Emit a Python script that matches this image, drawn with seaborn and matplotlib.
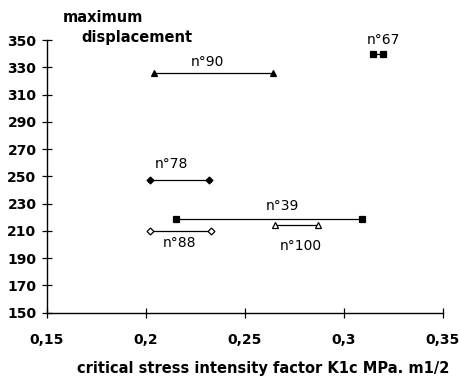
import matplotlib
matplotlib.use("Agg")
import matplotlib.pyplot as plt
import pandas as pd
import seaborn as sns

# data: two K1c values per specimen, one displacement
specimens = ["n°90", "n°78", "n°67", "n°39", "n°88", "n°100"]
k1c_low = [0.204, 0.202, 0.3147, 0.215, 0.202, 0.265]
k1c_high = [0.264, 0.232, 0.3197, 0.309, 0.233, 0.287]
displacement = [326, 247, 340, 219, 210, 214]
markers = ["^", "D", "s", "s", "D", "^"]
filled = [True, True, True, True, False, False]
label_pos = [(0.231, 334), (0.213, 259), (0.320, 350), (0.269, 228), (0.217, 201), (0.278, 199)]

x_ticks = [0.15, 0.2, 0.25, 0.3, 0.35]
x_tick_labels = ["0,15", "0,2", "0,25", "0,3", "0,35"]
y_ticks = list(range(150, 351, 20))

sns.set_style("white")
plt.rcParams["font.family"] = ["DejaVu Sans"]
plt.rcParams["text.color"] = "black"

fig = plt.figure(figsize=(4.59, 3.78), dpi=100)
ax = fig.add_axes([0.102, 0.173, 0.863, 0.721])

for i, name in enumerate(specimens):
    df = pd.DataFrame({"k1c": [k1c_low[i], k1c_high[i]],
                       "disp": [displacement[i], displacement[i]]})
    ms = 4.5 if markers[i] != "D" else 3.5
    sns.lineplot(data=df, x="k1c", y="disp", ax=ax, color="black", lw=0.9,
                 marker=markers[i], markersize=ms,
                 markerfacecolor="black" if filled[i] else "white",
                 markeredgecolor="black", markeredgewidth=0.9)
    ax.text(label_pos[i][0], label_pos[i][1], name, ha="center", va="center",
            fontsize=10, color="black")

ax.set_xlim(0.15, 0.35)
ax.set_ylim(150, 350)
ax.set_xticks(x_ticks)
ax.set_xticklabels(x_tick_labels, fontsize=10, fontweight="bold")
ax.set_yticks(y_ticks)
ax.set_yticklabels([str(v) for v in y_ticks], fontsize=10, fontweight="bold")
ax.tick_params(bottom=True, left=True, direction="inout", length=7, width=0.9,
               colors="black", labelcolor="black", pad=4)
ax.tick_params(axis="x", pad=11)
for side in ["top", "right"]:
    ax.spines[side].set_visible(False)
for side in ["left", "bottom"]:
    ax.spines[side].set_color("black")
    ax.spines[side].set_linewidth(1.0)

ax.set_xlabel("critical stress intensity factor K1c MPa. m1/2", fontsize=10.5,
              fontweight="bold", labelpad=10, color="black")
ax.xaxis.label.set_x(0.545)
ax.set_ylabel("")
fig.text(0.137, 0.953, "maximum", fontsize=10.5, fontweight="bold", va="center")
fig.text(0.178, 0.9, "displacement", fontsize=10.5, fontweight="bold", va="center")

fig.savefig("out.png", dpi=100)
